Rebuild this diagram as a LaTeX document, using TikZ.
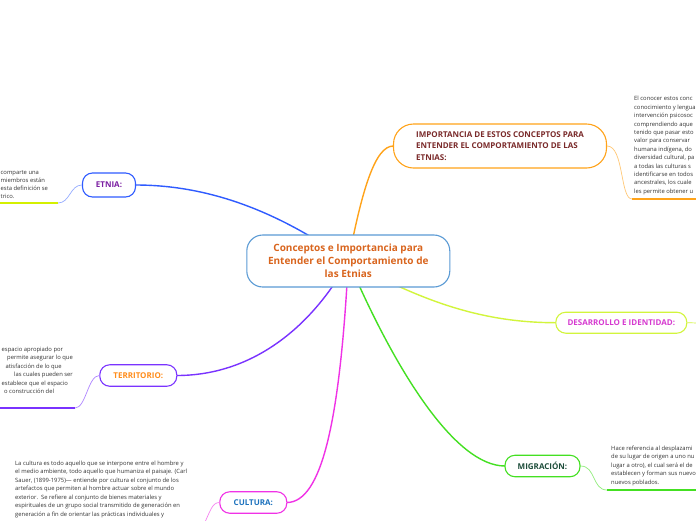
\documentclass[tikz,border=0pt]{standalone}
\usepackage{fontspec}
\setmainfont{Open Sans}
\definecolor{cblue}{HTML}{5B9BD5}
\definecolor{corange}{HTML}{D9651E}
\definecolor{iorange}{HTML}{FFA31A}
\definecolor{ibrown}{HTML}{7A2A2A}
\definecolor{eblue}{HTML}{2F5BFF}
\definecolor{epurple}{HTML}{7B1FA2}
\definecolor{tpurple}{HTML}{7A33FF}
\definecolor{torange}{HTML}{FF8C1A}
\definecolor{cmag}{HTML}{F032E6}
\definecolor{cultblue}{HTML}{1E73BE}
\definecolor{dyellow}{HTML}{D2F53C}
\definecolor{dmag}{HTML}{D63AD0}
\definecolor{mgreen}{HTML}{44E022}
\definecolor{mdark}{HTML}{1D4D3A}
\definecolor{ugreen}{HTML}{D4F000}
\definecolor{btext}{HTML}{333333}
\begin{document}
\begin{tikzpicture}[x=1pt,y=-1pt,
  topic/.style={draw, line width=1.1pt, rounded corners=10pt, fill=white,
    font=\fontsize{8}{9}\selectfont\bfseries, inner sep=0pt, align=center},
  body/.style={font=\fontsize{5.85}{8.5}\selectfont, text=btext, inner sep=0pt, anchor=base west},
  conn/.style={line width=1.4pt},
  thinc/.style={line width=0.7pt},
  uline/.style={line width=1.7pt}]
\clip (0,0) rectangle (696,520);
\fill[white] (0,0) rectangle (696,520);

% central position
\coordinate (c0) at (348.3,261);

% child node anchor coordinates for connectors
\coordinate (impw) at (393.3,146);
\coordinate (etne) at (135.5,185);
\coordinate (terre) at (176.8,375.5);
\coordinate (culte) at (286.8,502.5);
\coordinate (desw) at (555.8,322.7);
\coordinate (migw) at (505,466);

% main connectors
\draw[conn, iorange] (c0) .. controls (362,190) and (375,146) .. (impw);
\draw[conn, eblue] (c0) .. controls (290,220) and (220,185) .. (etne);
\draw[conn, tpurple] (c0) .. controls (310,330) and (250,375.5) .. (terre);
\draw[conn, cmag] (c0) .. controls (340,420) and (322,502.5) .. (culte);
\draw[conn, dyellow] (c0) .. controls (420,300) and (480,322.7) .. (desw);
\draw[conn, mgreen] (c0) .. controls (395,370) and (455,466) .. (migw);

% central node
\node[draw=cblue, line width=1.1pt, rounded corners=16pt, fill=white,
  minimum width=203pt, minimum height=52pt, inner sep=0pt, align=center,
  text=corange, font=\fontsize{10}{13}\selectfont\bfseries] (central) at (c0)
  {Conceptos e Importancia para\\Entender el Comportamiento de\\las Etnias};

% topic nodes
\node[topic, draw=iorange, text=ibrown, rounded corners=20pt, minimum width=213pt,
  minimum height=44pt, align=left,
  font=\fontsize{8}{11.2}\selectfont\bfseries] (imp) at (500,146)
  {IMPORTANCIA DE ESTOS CONCEPTOS PARA\\ENTENDER EL COMPORTAMIENTO DE LAS\\ETNIAS:};
\node[topic, draw=eblue, text=epurple, minimum width=53pt, minimum height=24pt] (etnia) at (109,185) {ETNIA:};
\node[topic, draw=tpurple, text=torange, minimum width=77pt, minimum height=21.5pt] (terr) at (138.3,375.5) {TERRITORIO:};
\node[topic, draw=cmag, text=cultblue, minimum width=67pt, minimum height=21.5pt] (cult) at (253.3,502.5) {CULTURA:};
\node[topic, draw=dyellow, text=dmag, minimum width=131pt, minimum height=21pt] (des) at (621.3,322.7) {DESARROLLO E IDENTIDAD:};
\node[topic, draw=mgreen, text=mdark, minimum width=75pt, minimum height=21.5pt] (mig) at (542.5,466) {MIGRACIÓN:};

% secondary thin connectors and underlines
\coordinate (impu) at (632,199);
\coordinate (impu2) at (697,199);
\draw[thinc, iorange!60] (imp.east) .. controls (624,146) and (620,199) .. (impu);
\draw[uline, iorange] (impu) -- (impu2);

\coordinate (etu) at (58,203);
\coordinate (etu2) at (-1,203);
\draw[thinc, eblue!50] (etnia.west) .. controls (70,185) and (70,203) .. (etu);
\draw[uline, ugreen] (etu) -- (etu2);

\coordinate (teu) at (75,408);
\coordinate (teu2) at (-1,408);
\draw[thinc, tpurple!60] (terr.west) .. controls (88,375.5) and (86,408) .. (teu);
\draw[uline, tpurple] (teu) -- (teu2);

\coordinate (cuu) at (204,524);
\draw[thinc, cmag!60] (cult.west) .. controls (212,502.5) and (210,512) .. (cuu);

\coordinate (deu) at (698,323);
\draw[thinc, dyellow] (des.east) -- (deu);

\coordinate (miu) at (607,490);
\coordinate (miu2) at (697,490);
\draw[thinc, mgreen!60] (mig.east) .. controls (596,466) and (592,490) .. (miu);
\draw[uline, mgreen] (miu) -- (miu2);

% body texts
\foreach \t [count=\i] in {{El conocer estos conc},{conocimiento y lengua},{intervención psicosoc},{comprendiendo aque},{tenido que pasar esto},{valor para conservar},{humana indígena, do},{diversidad cultural, pa},{a todas las culturas s},{identificarse en todos},{ancestrales, los cuale},{les permite obtener u}}
  \node[body] (impt\i) at ({634},{100.8+8.4*(\i-1)}) {\t};

\foreach \t [count=\i] in {{comparte una},{miembros están},{esta definición se},{trico.}}
  \node[body] (ett\i) at ({0.5},{174.3+8.2*(\i-1)}) {\t};

\node[body] (tet1) at (1.5,351.5) {espacio apropiado por};
\node[body] (tet2) at (7,359.9) {permite asegurar lo que};
\node[body] (tet3) at (5.5,368.3) {atisfacción de lo que};
\node[body] (tet4) at (14,376.7) {las cuales pueden ser};
\node[body] (tet5) at (1.5,385.1) {establece que el espacio};
\node[body] (tet6) at (4,393.5) {o construcción del};

\foreach \t [count=\i] in {{La cultura es todo aquello que se interpone entre el hombre y},{el medio ambiente, todo aquello que humaniza el paisaje. (Carl},{Sauer, (1899-1975)— entiende por cultura el conjunto de los},{artefactos que permiten al hombre actuar sobre el mundo},{exterior.\ \ Se refiere al conjunto de bienes materiales y},{espirituales de un grupo social transmitido de generación en},{generación a fin de orientar las prácticas individuales y}}
  \node[body] (cut\i) at ({15},{465.5+8.45*(\i-1)}) {\t};

\foreach \t [count=\i] in {{Hace referencia al desplazami},{de su lugar de origen a uno nu},{lugar a otro), el cual será el de},{establecen y forman sus nuevo},{nuevos poblados.}}
  \node[body] (mit\i) at ({611},{450+8.5*(\i-1)}) {\t};
\end{tikzpicture}
\end{document}
